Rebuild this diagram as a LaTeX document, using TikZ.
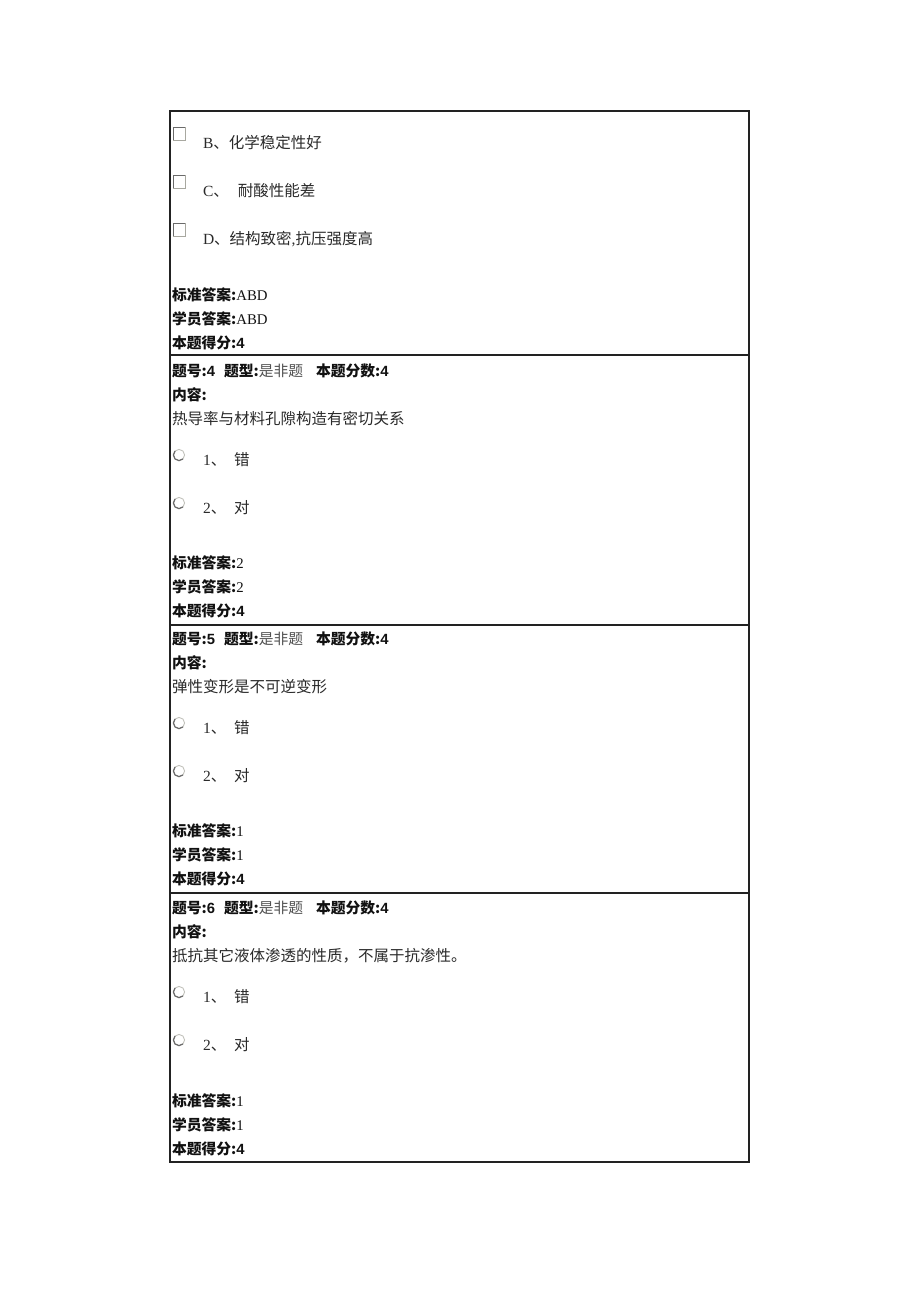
\documentclass[tikz,border=0pt]{standalone}
\usepackage{fontspec}
\setmainfont{Liberation Serif}
\newfontfamily\cjk{Noto Sans CJK SC}
\newfontfamily\lsans{Liberation Sans}
\usetikzlibrary{calc}
\definecolor{frame}{HTML}{222222}
\definecolor{txt}{HTML}{111111}
\definecolor{body}{HTML}{2A2A2A}
\definecolor{soft}{HTML}{505050}
\definecolor{boxl}{HTML}{A8A8A0}
\definecolor{boxd}{HTML}{6A6A6A}
\tikzset{
  lb/.style={anchor=base west,inner sep=0pt,outer sep=0pt,text=txt,font=\fontsize{14.8}{17}\selectfont},
  t/.style={lb,text=body,font=\fontsize{15.5}{17}\selectfont},
  fr/.style={draw=frame,line width=1.4pt},
}
\newcommand\Cb[1]{{\cjk\bfseries #1}}
\newcommand\Cn[1]{{\cjk #1}}
\newcommand\Sb[1]{{\lsans\bfseries #1}}
\newcommand\checkbox[3]{% name, x, y(top)
  \coordinate (#1) at (#2,#3);
  \draw[boxl,line width=0.8pt] (#2,#3+13) -- (#2+12,#3+13) -- (#2+12,#3);
  \draw[boxd,line width=0.9pt] (#2,#3+13) -- (#2,#3) -- (#2+12,#3);
}
\newcommand\radio[3]{% name, x-centre, y-centre
  \coordinate (#1) at (#2,#3);
  \draw[boxl!70,line width=0.9pt] (#1) circle (5.6pt);
  \draw[boxd,line width=1.2pt] ($(#1)+(-45:5.6pt)$) arc (-45:-225:5.6pt);
}
\newcommand\answers[4]{% prefix, y-first baseline, std, stu
  \node[lb] (#1std) at (172,#2) {\Cb{标准答案:}#3};
  \node[lb] (#1stu) at (172,#2+24) {\Cb{学员答案:}#4};
  \node[lb] (#1sc) at (172,#2+48) {\Cb{本题得分:}\Sb{4}};
}
\newcommand\header[4]{% prefix, baseline, number, content
  \node[lb] (#1no) at (172,#2) {\Cb{题号:}\Sb{#3}};
  \node[lb] (#1ty) at (224,#2) {\Cb{题型:}{\color{soft}\Cn{是非题}}};
  \node[lb] (#1pt) at (316,#2) {\Cb{本题分数:}\Sb{4}};
  \node[lb] (#1ct) at (172,#2+24) {\Cb{内容:}};
  \node[t] (#1tx) at (172,#2+48) {\Cn{#4}};
}
\newcommand\tf[2]{% prefix, baseline of option 1
  \radio{#1ra}{179}{#2-10}
  \node[t] (#1o1) at (203,#2) {1\Cn{、}};
  \node[t] (#1o1t) at (234,#2) {\Cn{错}};
  \radio{#1rb}{179}{#2+38}
  \node[t] (#1o2) at (203,#2+48) {2\Cn{、}};
  \node[t] (#1o2t) at (234,#2+48) {\Cn{对}};
}
\begin{document}
\begin{tikzpicture}[x=1pt,y=-1pt]
\useasboundingbox[fill=white] (0,0) rectangle (920,1302);
% frame
\draw[fr] (170,111) rectangle (749,1162);
\draw[fr] (170,355) -- (749,355);
\draw[fr] (170,625) -- (749,625);
\draw[fr] (170,893) -- (749,893);
% question 3 tail
\checkbox{cbB}{173}{127}
\node[t] (oB) at (203,148) {B\Cn{、化学稳定性好}};
\checkbox{cbC}{173}{175}
\node[t] (oC) at (203,196) {C\Cn{、}\hspace{9pt}\Cn{耐酸性能差}};
\checkbox{cbD}{173}{223}
\node[t] (oD) at (203,244) {D\Cn{、结构致密},\Cn{抗压强度高}};
\answers{q3}{300}{ABD}{ABD}
% question 4
\header{q4}{376}{4}{热导率与材料孔隙构造有密切关系}
\tf{q4}{465}
\answers{q4}{568}{2}{2}
% question 5
\header{q5}{644}{5}{弹性变形是不可逆变形}
\tf{q5}{733}
\answers{q5}{836}{1}{1}
% question 6
\header{q6}{913}{6}{抵抗其它液体渗透的性质，不属于抗渗性。}
\tf{q6}{1002}
\answers{q6}{1106}{1}{1}
\end{tikzpicture}
\end{document}
